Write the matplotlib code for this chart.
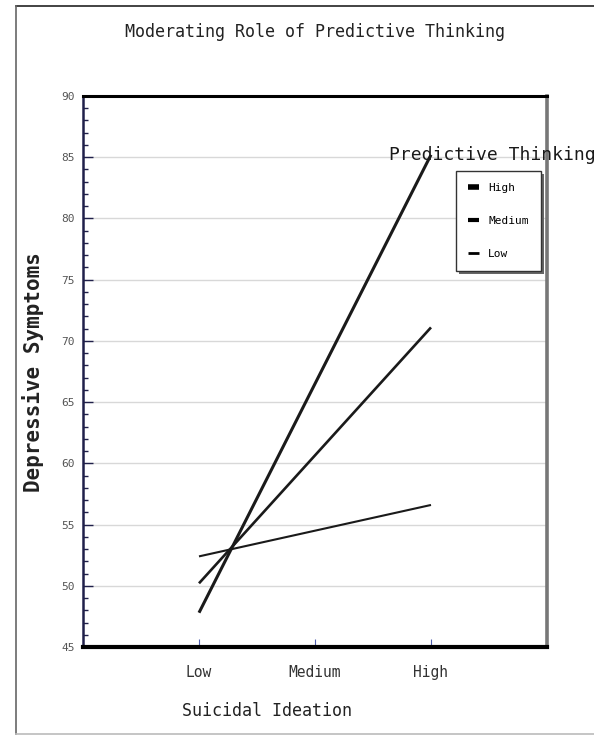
import matplotlib
matplotlib.use('Agg')
import matplotlib.pyplot as plt
from matplotlib.lines import Line2D
from matplotlib.patches import Rectangle
from matplotlib.ticker import MultipleLocator

# data
ideation = ['Low', 'Medium', 'High']
x_pos = [1, 3]          # only Low and High are plotted
groups = ['High', 'Medium', 'Low']
y_high = [47.8, 85.2]
y_medium = [50.2, 71.1]
y_low = [52.4, 56.6]
widths = [2.2, 1.9, 1.5]
leg_widths = [4.0, 3.0, 2.0]

plt.rcParams['font.family'] = 'DejaVu Sans Mono'

fig = plt.figure(figsize=(5.94, 7.36), dpi=100)
W, H = 594, 736

# outer frame of the picture
fig.add_artist(Line2D([16 / W, 1], [1 - 6 / H, 1 - 6 / H], color='#222222', lw=1.2, transform=fig.transFigure))
fig.add_artist(Line2D([16 / W, 16 / W], [1 - 6 / H, 2 / H], color='#666666', lw=1.2, transform=fig.transFigure))
fig.add_artist(Line2D([16 / W, 1], [2 / H, 2 / H], color='#bbbbbb', lw=1.2, transform=fig.transFigure))

ax = fig.add_axes([83 / W, 89 / H, 464 / W, 551 / H])

for y, g, lw in zip([y_high, y_medium, y_low], groups, widths):
    ax.plot(x_pos, y, color='#1a1a1a', lw=lw, solid_capstyle='butt')

ax.set_xlim(0, 4)
ax.set_ylim(45, 90)
ax.set_xticks([1, 2, 3])
ax.set_xticklabels(ideation, fontsize=10.5, color='#333333')
ax.yaxis.set_major_locator(MultipleLocator(5))
ax.yaxis.set_minor_locator(MultipleLocator(1))
ax.tick_params(axis='y', which='major', direction='in', length=7, width=1, color='#20204a',
               labelsize=8, labelcolor='#555555', pad=6)
ax.tick_params(axis='y', which='minor', direction='in', length=3.5, width=1, color='#20204a')
ax.tick_params(axis='x', direction='in', length=6, width=0.8, color='#5060b0', pad=13)
ax.grid(axis='y', which='major', color='#d8d8d8', lw=1)
ax.set_axisbelow(True)

ax.spines['top'].set_linewidth(2.2)
ax.spines['top'].set_color('black')
ax.spines['bottom'].set_linewidth(3)
ax.spines['bottom'].set_color('black')
ax.spines['left'].set_linewidth(1.8)
ax.spines['left'].set_color('#20204a')
ax.spines['right'].set_linewidth(2.6)
ax.spines['right'].set_color('#777777')

fig.text(315 / W, 1 - 32 / H, 'Moderating Role of Predictive Thinking', ha='center', va='center',
         fontsize=12, color='#222222')
fig.text(267 / W, 1 - 711 / H, 'Suicidal Ideation', ha='center', va='center', fontsize=12, color='#222222')
fig.text(33 / W, 1 - 372 / H, 'Depressive Symptoms', ha='center', va='center', rotation=90,
         fontsize=15, fontweight='bold', color='#222222')

# legend
fig.text(492 / W, 1 - 155 / H, 'Predictive Thinking', ha='center', va='center', fontsize=13, color='#1a1a1a')
handles = [Line2D([], [], color='black', lw=lw, solid_capstyle='butt') for lw in leg_widths]
fig.add_artist(Rectangle((459 / W, 1 - 274 / H), 85 / W, 100 / H, transform=fig.transFigure,
                         facecolor='#666666', edgecolor='none', zorder=4))
leg = fig.legend(handles, groups, loc='upper left', mode='expand',
                 bbox_to_anchor=(456 / W, 1 - 171 / H, 85 / W, 0.0001),
                 fontsize=8, frameon=True, fancybox=False, handlelength=1.0, handletextpad=0.8,
                 labelspacing=2.05, borderpad=1.1, borderaxespad=0, framealpha=1)
leg.get_frame().set_edgecolor('#333333')
leg.get_frame().set_facecolor('white')
leg.get_frame().set_linewidth(1)
leg.set_zorder(5)

fig.savefig('out.png', dpi=100)
